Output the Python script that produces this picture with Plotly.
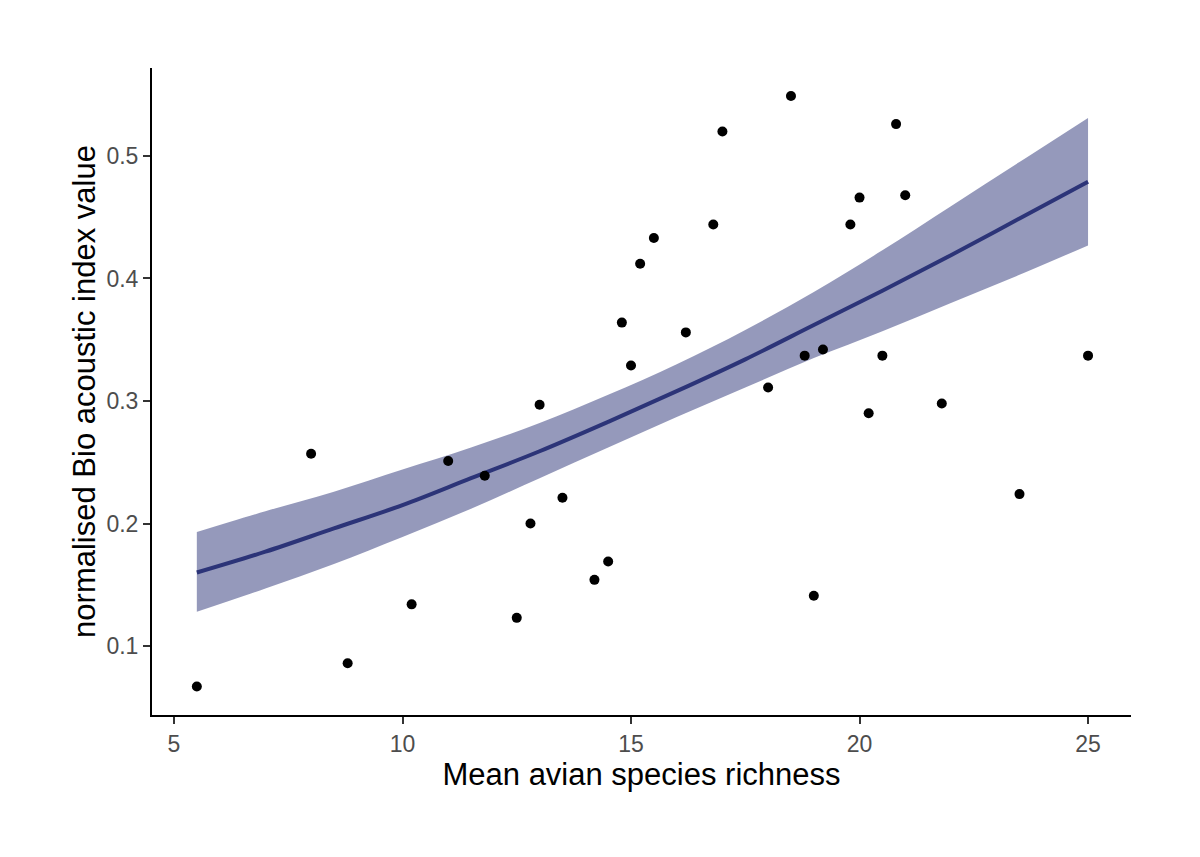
import plotly.graph_objects as go

# Observed points
richness = [5.5, 8.0, 8.8, 10.2, 11.0, 11.8, 12.5, 12.8, 13.0, 13.5, 14.2, 14.5,
            14.8, 15.0, 15.2, 15.5, 16.2, 16.8, 17.0, 18.0, 18.5, 18.8, 19.0, 19.2,
            19.8, 20.0, 20.2, 20.5, 20.8, 21.0, 21.8, 23.5, 25.0]
bai = [0.067, 0.257, 0.086, 0.134, 0.251, 0.239, 0.123, 0.200, 0.297, 0.221, 0.154, 0.169,
       0.364, 0.329, 0.412, 0.433, 0.356, 0.444, 0.520, 0.311, 0.549, 0.337, 0.141, 0.342,
       0.444, 0.466, 0.290, 0.337, 0.526, 0.468, 0.298, 0.224, 0.337]

# Fitted curve and confidence band
fit_x = [5.5, 7.0, 8.5, 10.0, 11.5, 13.0, 14.5, 16.0, 17.5, 19.0, 20.5, 22.0, 23.5, 25.0]
fit_y = [0.160, 0.177, 0.196, 0.215, 0.237, 0.259, 0.283, 0.308, 0.334, 0.362, 0.390, 0.419, 0.449, 0.479]
fit_hi = [0.193, 0.210, 0.226, 0.244, 0.262, 0.282, 0.305, 0.330, 0.358, 0.389, 0.423, 0.459, 0.495, 0.531]
fit_lo = [0.128, 0.147, 0.167, 0.189, 0.212, 0.237, 0.262, 0.287, 0.311, 0.335, 0.357, 0.380, 0.403, 0.427]

x_ticks = [5, 10, 15, 20, 25]
y_ticks = [0.1, 0.2, 0.3, 0.4, 0.5]

LINE = "#2c3478"
BAND = "rgba(44,52,120,0.5)"
FONT = "Liberation Sans, Arial, sans-serif"

fig = go.Figure()
fig.add_trace(go.Scatter(x=fit_x, y=fit_lo, mode="lines", line=dict(width=0, shape="spline"),
                         showlegend=False, hoverinfo="skip"))
fig.add_trace(go.Scatter(x=fit_x, y=fit_hi, mode="lines", line=dict(width=0, shape="spline"),
                         fill="tonexty", fillcolor=BAND, showlegend=False, hoverinfo="skip"))
fig.add_trace(go.Scatter(x=fit_x, y=fit_y, mode="lines", line=dict(color=LINE, width=4, shape="spline"),
                         showlegend=False))
fig.add_trace(go.Scatter(x=richness, y=bai, mode="markers",
                         marker=dict(color="black", size=10), showlegend=False))

fig.update_layout(
    width=1200, height=857,
    paper_bgcolor="white", plot_bgcolor="white",
    margin=dict(l=144, r=77, t=60, b=150),
    font=dict(family=FONT),
)
fig.update_xaxes(
    range=[4.519, 25.94], tickvals=x_ticks, ticktext=[str(v) for v in x_ticks],
    showgrid=False, zeroline=False, showline=True, linecolor="black", linewidth=2,
    ticks="outside", ticklen=7, tickwidth=2, tickcolor="#333333",
    tickfont=dict(size=23, color="#4d4d4d", family=FONT),
    title=dict(text="Mean avian species richness", font=dict(size=31, color="black", family=FONT), standoff=6),
)
fig.update_yaxes(
    range=[0.0437, 0.5718], tickvals=y_ticks, ticktext=[f"{v:.1f}" for v in y_ticks],
    showgrid=False, zeroline=False, showline=True, linecolor="black", linewidth=2,
    ticks="outside", ticklen=7, tickwidth=2, tickcolor="#333333",
    tickfont=dict(size=23, color="#4d4d4d", family=FONT),
    title=dict(text="normalised Bio acoustic index value", font=dict(size=31, color="black", family=FONT), standoff=2),
)

fig.write_html("out.html")
